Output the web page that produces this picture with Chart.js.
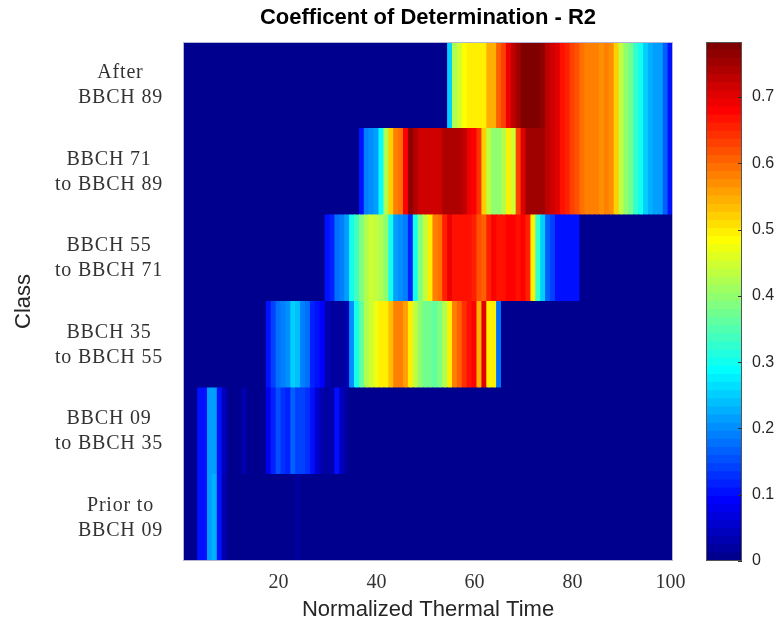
<!DOCTYPE html>
<html><head><meta charset="utf-8">
<script src="https://cdn.jsdelivr.net/npm/chart.js@4.4.1/dist/chart.umd.min.js"></script>
<style>
html,body{margin:0;padding:0;background:#fff;}
#wrap{position:relative;width:778px;height:623px;overflow:hidden;}
#main{position:absolute;left:0;top:0;}
#cbar{position:absolute;left:690px;top:0;}
</style></head><body>
<div id="wrap"><canvas id="main" width="778" height="623"></canvas><canvas id="cbar" width="88" height="623"></canvas></div>
<script>
// ---------------- DATA ----------------
const classLabels = [
  ["Prior to", "BBCH 09"],
  ["BBCH 09", "to BBCH 35"],
  ["BBCH 35", "to BBCH 55"],
  ["BBCH 55", "to BBCH 71"],
  ["BBCH 71", "to BBCH 89"],
  ["After", "BBCH 89"]
];
const thermalTime = [
  1,2,3,4,5,6,7,8,9,10, 11,12,13,14,15,16,17,18,19,20,
  21,22,23,24,25,26,27,28,29,30, 31,32,33,34,35,36,37,38,39,40,
  41,42,43,44,45,46,47,48,49,50, 51,52,53,54,55,56,57,58,59,60,
  61,62,63,64,65,66,67,68,69,70, 71,72,73,74,75,76,77,78,79,80,
  81,82,83,84,85,86,87,88,89,90, 91,92,93,94,95,96,97,98,99,100
];
const xTickLabels = [20, 40, 60, 80, 100];
const colorbarTicks = [0, 0.1, 0.2, 0.3, 0.4, 0.5, 0.6, 0.7];
const colorMax = 0.783;

const priorTo09 = [
  0,0,0,0.10,0.11,0.22,0.23,0.11,0.03,0,
  0,0,0,0,0,0,0,0,0,0,
  0,0,0,0.02,0,0,0,0,0,0,
  0,0,0,0,0,0,0,0,0,0,
  0,0,0,0,0,0,0,0,0,0,
  0,0,0,0,0,0,0,0,0,0,
  0,0,0,0,0,0,0,0,0,0,
  0,0,0,0,0,0,0,0,0,0,
  0,0,0,0,0,0,0,0,0,0,
  0,0,0,0,0,0,0,0,0,0
];
const bbch09to35 = [
  0,0,0,0.10,0.11,0.22,0.22,0.11,0.04,0,
  0,0,0.03,0.01,0.01,0.01,0.01,0.08,0.12,0.15,
  0.13,0.12,0.16,0.14,0.14,0.13,0.10,0.05,0.03,0.02,
  0.03,0.11,0.04,0.02,0.01,0,0,0,0,0,
  0,0,0,0,0,0,0,0,0,0,
  0,0,0,0,0,0,0,0,0,0,
  0,0,0,0,0,0,0,0,0,0,
  0,0,0,0,0,0,0,0,0,0,
  0,0,0,0,0,0,0,0,0,0,
  0,0,0,0,0,0,0,0,0,0
];
const bbch35to55 = [
  0,0,0,0,0,0,0,0,0,0,
  0,0,0,0,0,0,0,0.10,0.14,0.18,
  0.19,0.20,0.25,0.24,0.19,0.18,0.12,0.11,0.09,0.03,
  0.02,0.02,0.02,0.03,0.20,0.30,0.36,0.42,0.45,0.47,
  0.49,0.50,0.53,0.58,0.58,0.56,0.49,0.43,0.40,0.37,
  0.37,0.36,0.38,0.42,0.50,0.58,0.60,0.64,0.67,0.68,
  0.55,0.70,0.50,0.50,0.18,0,0,0,0,0,
  0,0,0,0,0,0,0,0,0,0,
  0,0,0,0,0,0,0,0,0,0,
  0,0,0,0,0,0,0,0,0,0
];
const bbch55to71 = [
  0,0,0,0,0,0,0,0,0,0,
  0,0,0,0,0,0,0,0,0,0,
  0,0,0,0,0,0,0,0,0,0.10,
  0.12,0.18,0.19,0.21,0.30,0.34,0.38,0.42,0.45,0.43,
  0.42,0.40,0.30,0.22,0.20,0.19,0.12,0.30,0.38,0.44,
  0.50,0.58,0.59,0.65,0.69,0.67,0.67,0.67,0.67,0.66,
  0.62,0.60,0.66,0.68,0.67,0.67,0.68,0.68,0.67,0.68,
  0.66,0.50,0.33,0.25,0.17,0.14,0.11,0.11,0.11,0.11,
  0.11,0,0,0,0,0,0,0,0,0,
  0,0,0,0,0,0,0,0,0,0
];
const bbch71to89 = [
  0,0,0,0,0,0,0,0,0,0,
  0,0,0,0,0,0,0,0,0,0,
  0,0,0,0,0,0,0,0,0,0,
  0,0,0,0,0,0,0.11,0.19,0.20,0.21,
  0.29,0.42,0.52,0.58,0.59,0.68,0.77,0.74,0.72,0.72,
  0.72,0.72,0.72,0.74,0.74,0.74,0.74,0.73,0.69,0.68,
  0.64,0.52,0.44,0.40,0.40,0.42,0.50,0.45,0.63,0.70,
  0.75,0.75,0.75,0.75,0.73,0.72,0.70,0.67,0.65,0.63,
  0.62,0.59,0.58,0.58,0.58,0.57,0.58,0.57,0.52,0.44,
  0.40,0.37,0.33,0.30,0.25,0.23,0.21,0.21,0.17,0.11
];
const after89 = [
  0,0,0,0,0,0,0,0,0,0,
  0,0,0,0,0,0,0,0,0,0,
  0,0,0,0,0,0,0,0,0,0,
  0,0,0,0,0,0,0,0,0,0,
  0,0,0,0,0,0,0,0,0,0,
  0,0,0,0,0.25,0.42,0.45,0.48,0.49,0.50,
  0.49,0.50,0.54,0.54,0.60,0.63,0.69,0.73,0.75,0.78,
  0.78,0.78,0.78,0.77,0.73,0.72,0.70,0.67,0.65,0.63,
  0.62,0.59,0.58,0.58,0.58,0.57,0.58,0.57,0.52,0.44,
  0.40,0.37,0.33,0.30,0.25,0.23,0.21,0.21,0.17,0.11
];
const rows = [priorTo09, bbch09to35, bbch35to55, bbch55to71, bbch71to89, after89];

// ---------------- COLORMAP (MATLAB jet, 64 levels) ----------------
function jetMap(m) {
  const n = Math.ceil(m / 4), u = [];
  for (let i = 1; i <= n; i++) u.push(i / n);
  for (let i = 0; i < n - 1; i++) u.push(1);
  for (let i = n; i >= 1; i--) u.push(i / n);
  const g0 = Math.ceil(n / 2) - (m % 4 === 1 ? 1 : 0);
  const R = new Array(m).fill(0), G = new Array(m).fill(0), B = new Array(m).fill(0);
  for (let k = 0; k < u.length; k++) {
    const gi = g0 + k + 1, ri = gi + n, bi = gi - n;
    if (ri >= 1 && ri <= m) R[ri - 1] = u[k];
    if (gi >= 1 && gi <= m) G[gi - 1] = u[k];
    if (bi >= 1 && bi <= m) B[bi - 1] = u[k];
  }
  return R.map((r, i) => `rgb(${Math.round(r*255)},${Math.round(G[i]*255)},${Math.round(B[i]*255)})`);
}
const NLEV = 64;
const jet = jetMap(NLEV);
function colorFor(v) {
  let idx = Math.floor(v / colorMax * NLEV);
  if (idx < 0) idx = 0;
  if (idx > NLEV - 1) idx = NLEV - 1;
  return jet[idx];
}

// ---------------- PLUGINS ----------------
const framePlugin = {
  id: 'frame',
  afterDatasetsDraw(chart, args, opts) {
    const {ctx, chartArea: a} = chart;
    ctx.save();
    ctx.strokeStyle = opts.color || '#b4b4d4';
    ctx.lineWidth = 1;
    ctx.strokeRect(Math.round(a.left) + 0.5, Math.round(a.top) + 0.5,
                   Math.round(a.right - a.left) - 1, Math.round(a.bottom - a.top) - 1);
    ctx.restore();
  }
};
const classLabelPlugin = {
  id: 'classLabels',
  afterDraw(chart) {
    const {ctx} = chart;
    const y = chart.scales.y;
    const rightX = 163;
    const lh = 25;
    ctx.save();
    ctx.font = '20px "Liberation Serif", "Times New Roman", serif';
    if ('letterSpacing' in ctx) ctx.letterSpacing = '0.8px';
    ctx.fillStyle = '#333333';
    ctx.textBaseline = 'middle';
    ctx.textAlign = 'center';
    classLabels.forEach((lines, r) => {
      const cy = y.getPixelForValue(r + 1);
      const w = Math.max(...lines.map(l => ctx.measureText(l).width));
      const cx = rightX - w / 2;
      lines.forEach((l, i) => {
        ctx.fillText(l, cx, cy + (i - (lines.length - 1) / 2) * lh);
      });
    });
    ctx.restore();
  }
};

// ---------------- MAIN HEATMAP ----------------
const datasets = rows.map((vals, r) => ({
  label: classLabels[r].join(' '),
  data: vals.map(() => [r + 0.5, r + 1.5]),
  backgroundColor: vals.map(colorFor),
  borderWidth: 0,
  grouped: false,
  barPercentage: 1,
  categoryPercentage: 1,
  inflateAmount: 0.5
}));

new Chart(document.getElementById('main'), {
  type: 'bar',
  data: { labels: thermalTime, datasets },
  options: {
    responsive: false,
    animation: false,
    events: [],
    layout: { padding: { left: 0, right: 105, top: 0, bottom: 0 } },
    plugins: {
      legend: { display: false },
      tooltip: { enabled: false },
      frame: { color: '#b4b4d4' },
      title: {
        display: true,
        fullSize: false,
        text: 'Coefficent of Determination - R2',
        color: '#000000',
        font: { family: '"Liberation Sans", Arial, sans-serif', size: 22, weight: 'bold' },
        padding: { top: 5, bottom: 10.6 }
      }
    },
    scales: {
      x: {
        type: 'category',
        grid: { display: false, drawTicks: false },
        border: { display: false },
        ticks: {
          autoSkip: false,
          maxRotation: 0,
          minRotation: 0,
          padding: 10,
          color: '#333333',
          font: { family: '"Liberation Serif", "Times New Roman", serif', size: 20 },
          callback: (v, i) => xTickLabels.includes(thermalTime[i]) ? String(thermalTime[i]) : ''
        },
        title: {
          display: true,
          text: 'Normalized Thermal Time',
          color: '#262626',
          font: { family: '"Liberation Sans", Arial, sans-serif', size: 22 },
          padding: { top: 0, bottom: 0 }
        },
        afterFit: s => { s.height = 62; }
      },
      y: {
        type: 'linear',
        min: 0.5,
        max: 6.5,
        grid: { display: false, drawTicks: false },
        border: { display: false },
        ticks: { display: false },
        title: {
          display: true,
          text: 'Class',
          color: '#262626',
          font: { family: '"Liberation Sans", Arial, sans-serif', size: 22 },
          padding: { top: 11, bottom: 0 }
        },
        afterFit: s => { s.width = 183; }
      }
    }
  },
  plugins: [framePlugin, classLabelPlugin]
});

// ---------------- COLORBAR ----------------
const cbTickPlugin = {
  id: 'cbTicks',
  afterDatasetsDraw(chart) {
    const {ctx, chartArea: a} = chart;
    const y = chart.scales.y;
    ctx.save();
    ctx.strokeStyle = '#333333';
    ctx.lineWidth = 1;
    ctx.beginPath();
    y.ticks.forEach(t => {
      const py = Math.round(y.getPixelForValue(t.value)) + 0.5;
      ctx.moveTo(a.right - 4, py);
      ctx.lineTo(a.right, py);
    });
    ctx.stroke();
    ctx.restore();
  }
};
const cbDatasets = jet.map((c, k) => ({
  data: [[k * colorMax / NLEV, (k + 1) * colorMax / NLEV]],
  backgroundColor: c,
  borderWidth: 0,
  grouped: false,
  barPercentage: 1,
  categoryPercentage: 1,
  inflateAmount: 0.5
}));
new Chart(document.getElementById('cbar'), {
  type: 'bar',
  data: { labels: ['R2'], datasets: cbDatasets },
  options: {
    responsive: false,
    animation: false,
    events: [],
    layout: { padding: { left: 16, top: 42, bottom: 62, right: 0 } },
    plugins: { legend: { display: false }, tooltip: { enabled: false }, frame: { color: '#555555' } },
    scales: {
      x: { display: false },
      y: {
        position: 'right',
        min: 0,
        max: colorMax,
        grid: { display: false, drawTicks: false },
        border: { display: false },
        afterBuildTicks: s => { s.ticks = colorbarTicks.map(v => ({ value: v })); },
        ticks: {
          padding: 10,
          color: '#262626',
          font: { family: '"Liberation Sans", Arial, sans-serif', size: 16 },
          callback: v => (Math.round(v * 10) / 10).toString()
        },
        afterFit: s => { s.width = 36; }
      }
    }
  },
  plugins: [framePlugin, cbTickPlugin]
});
</script>
</body></html>
